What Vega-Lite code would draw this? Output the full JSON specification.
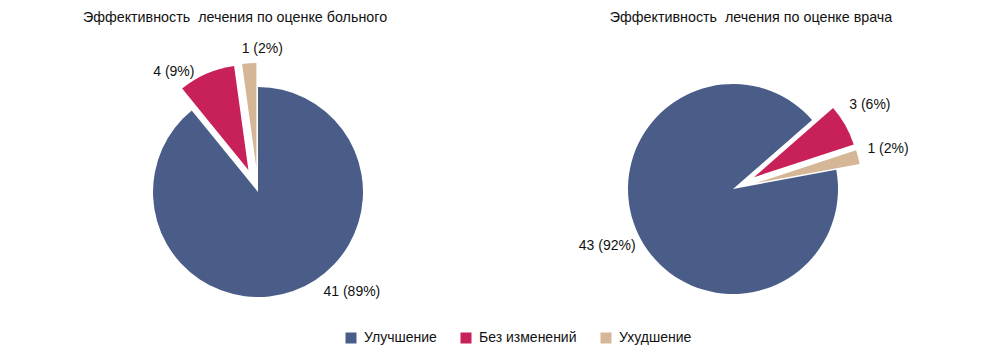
{
  "$schema": "https://vega.github.io/schema/vega-lite/v6.json",
  "padding": {"left": 0, "top": 10, "right": 0, "bottom": 0},
  "spacing": 0,
  "background": "white",
  "config": {
    "view": {"stroke": null},
    "font": "Liberation Sans",
    "title": {"fontSize": 14.3, "fontWeight": "normal", "color": "#111111", "font": "Liberation Sans"},
    "text": {"fontSize": 14, "font": "Liberation Sans", "color": "#111111"},
    "legend": {"labelFontSize": 14, "labelFont": "Liberation Sans", "labelColor": "#111111", "symbolType": "square", "symbolSize": 121, "symbolStrokeWidth": 0, "labelOffset": 6, "columnPadding": 22, "padding": 0}
  },
  "datasets": {
    "pies": [
      {"panel": "patient", "cat": "Улучшение", "n": 41, "idx": 1, "label": "41 (89%)"},
      {"panel": "patient", "cat": "Без изменений", "n": 4, "idx": 2, "label": "4 (9%)"},
      {"panel": "patient", "cat": "Ухудшение", "n": 1, "idx": 3, "label": "1 (2%)"},
      {"panel": "doctor", "cat": "Улучшение", "n": 43, "idx": 1, "label": "43 (92%)"},
      {"panel": "doctor", "cat": "Без изменений", "n": 3, "idx": 2, "label": "3 (6%)"},
      {"panel": "doctor", "cat": "Ухудшение", "n": 1, "idx": 3, "label": "1 (2%)"}
    ]
  },
  "resolve": {"scale": {"theta": "independent", "color": "shared"}, "legend": {"color": "shared"}},
  "hconcat": [
    {
      "width": 516,
      "height": 210,
      "title": {"text": "Эффективность\u00a0 лечения по оценке больного", "dx": -23, "offset": 17},
      "data": {"name": "pies"},
      "transform": [
        {"filter": "datum.panel == 'patient'"},
        {"joinaggregate": [{"op": "sum", "field": "n", "as": "total"}]},
        {"window": [{"op": "sum", "field": "n", "as": "cum"}], "sort": [{"field": "idx", "order": "ascending"}], "frame": [null, 0]},
        {"calculate": "(datum.cum - datum.n) / datum.total", "as": "f0"},
        {"calculate": "datum.cum / datum.total", "as": "f1"},
        {"calculate": "(datum.f0 + datum.f1) / 2", "as": "fm"}
      ],
      "layer": [
        {
          "transform": [{"filter": "datum.cat == 'Улучшение'"}],
          "mark": {"type": "arc", "radius": 105},
          "encoding": {
            "theta": {"field": "f0", "type": "quantitative", "stack": null, "scale": {"domain": [0, 1], "range": [0, 6.2832]}},
            "theta2": {"field": "f1"},
            "color": {"field": "cat", "type": "nominal", "title": null, "scale": {"domain": ["Улучшение", "Без изменений", "Ухудшение"], "range": ["#4a5d88", "#c8215a", "#d5b696"]}, "legend": {"orient": "none", "direction": "horizontal", "columns": 3, "legendX": 344, "legendY": 244, "title": null}}
          }
        },
        {
          "transform": [{"filter": "datum.cat == 'Без изменений'"}],
          "mark": {"type": "arc", "radius": 105, "xOffset": -9.6, "yOffset": -22},
          "encoding": {
            "theta": {"field": "f0", "type": "quantitative", "stack": null, "scale": {"domain": [0, 1], "range": [0, 6.2832]}},
            "theta2": {"field": "f1"},
            "color": {"field": "cat", "type": "nominal", "title": null, "scale": {"domain": ["Улучшение", "Без изменений", "Ухудшение"], "range": ["#4a5d88", "#c8215a", "#d5b696"]}, "legend": {"orient": "none", "direction": "horizontal", "columns": 3, "legendX": 344, "legendY": 244, "title": null}}
          }
        },
        {
          "transform": [{"filter": "datum.cat == 'Ухудшение'"}],
          "mark": {"type": "arc", "radius": 105, "xOffset": -1.6, "yOffset": -24},
          "encoding": {
            "theta": {"field": "f0", "type": "quantitative", "stack": null, "scale": {"domain": [0, 1], "range": [0, 6.2832]}},
            "theta2": {"field": "f1"},
            "color": {"field": "cat", "type": "nominal", "title": null, "scale": {"domain": ["Улучшение", "Без изменений", "Ухудшение"], "range": ["#4a5d88", "#c8215a", "#d5b696"]}, "legend": {"orient": "none", "direction": "horizontal", "columns": 3, "legendX": 344, "legendY": 244, "title": null}}
          }
        },
        {
          "transform": [{"filter": "datum.cat == 'Улучшение'"}],
          "mark": {"type": "text", "radius": 137, "dx": 48, "dy": -29},
          "encoding": {
            "theta": {"field": "fm", "type": "quantitative", "stack": null, "scale": {"domain": [0, 1], "range": [0, 6.2832]}},
            "text": {"field": "label"}
          }
        },
        {
          "transform": [{"filter": "datum.cat == 'Без изменений'"}],
          "mark": {"type": "text", "radius": 131, "dx": -32},
          "encoding": {
            "theta": {"field": "fm", "type": "quantitative", "stack": null, "scale": {"domain": [0, 1], "range": [0, 6.2832]}},
            "text": {"field": "label"}
          }
        },
        {
          "transform": [{"filter": "datum.cat == 'Ухудшение'"}],
          "mark": {"type": "text", "radius": 143, "dx": 14},
          "encoding": {
            "theta": {"field": "fm", "type": "quantitative", "stack": null, "scale": {"domain": [0, 1], "range": [0, 6.2832]}},
            "text": {"field": "label"}
          }
        }
      ]
    },
    {
      "width": 434,
      "height": 210,
      "title": {"text": "Эффективность\u00a0 лечения по оценке врача", "dx": 18, "offset": 59},
      "data": {"name": "pies"},
      "transform": [
        {"filter": "datum.panel == 'doctor'"},
        {"joinaggregate": [{"op": "sum", "field": "n", "as": "total"}]},
        {"window": [{"op": "sum", "field": "n", "as": "cum"}], "sort": [{"field": "idx", "order": "ascending"}], "frame": [null, 0]},
        {"calculate": "(datum.cum - datum.n) / datum.total", "as": "f0"},
        {"calculate": "datum.cum / datum.total", "as": "f1"},
        {"calculate": "(datum.f0 + datum.f1) / 2", "as": "fm"}
      ],
      "layer": [
        {
          "transform": [{"filter": "datum.cat == 'Улучшение'"}],
          "mark": {"type": "arc", "radius": 105, "yOffset": -3},
          "encoding": {
            "theta": {"field": "f0", "type": "quantitative", "stack": null, "scale": {"domain": [0, 1], "range": [1.3875, 7.6707]}},
            "theta2": {"field": "f1"},
            "color": {"field": "cat", "type": "nominal", "title": null, "scale": {"domain": ["Улучшение", "Без изменений", "Ухудшение"], "range": ["#4a5d88", "#c8215a", "#d5b696"]}, "legend": {"orient": "none", "direction": "horizontal", "columns": 3, "legendX": 344, "legendY": 244, "title": null}}
          }
        },
        {
          "transform": [{"filter": "datum.cat == 'Без изменений'"}],
          "mark": {"type": "arc", "radius": 105, "xOffset": 21, "yOffset": -14.8},
          "encoding": {
            "theta": {"field": "f0", "type": "quantitative", "stack": null, "scale": {"domain": [0, 1], "range": [1.3875, 7.6707]}},
            "theta2": {"field": "f1"},
            "color": {"field": "cat", "type": "nominal", "title": null, "scale": {"domain": ["Улучшение", "Без изменений", "Ухудшение"], "range": ["#4a5d88", "#c8215a", "#d5b696"]}, "legend": {"orient": "none", "direction": "horizontal", "columns": 3, "legendX": 344, "legendY": 244, "title": null}}
          }
        },
        {
          "transform": [{"filter": "datum.cat == 'Ухудшение'"}],
          "mark": {"type": "arc", "radius": 105, "xOffset": 23.3, "yOffset": -8.9},
          "encoding": {
            "theta": {"field": "f0", "type": "quantitative", "stack": null, "scale": {"domain": [0, 1], "range": [1.3875, 7.6707]}},
            "theta2": {"field": "f1"},
            "color": {"field": "cat", "type": "nominal", "title": null, "scale": {"domain": ["Улучшение", "Без изменений", "Ухудшение"], "range": ["#4a5d88", "#c8215a", "#d5b696"]}, "legend": {"orient": "none", "direction": "horizontal", "columns": 3, "legendX": 344, "legendY": 244, "title": null}}
          }
        },
        {
          "transform": [{"filter": "datum.cat == 'Улучшение'"}],
          "mark": {"type": "text", "radius": 132, "dx": -7, "dy": -3},
          "encoding": {
            "theta": {"field": "fm", "type": "quantitative", "stack": null, "scale": {"domain": [0, 1], "range": [1.3875, 7.6707]}},
            "text": {"field": "label"}
          }
        },
        {
          "transform": [{"filter": "datum.cat == 'Без изменений'"}],
          "mark": {"type": "text", "radius": 169, "dx": -10, "dy": -3},
          "encoding": {
            "theta": {"field": "fm", "type": "quantitative", "stack": null, "scale": {"domain": [0, 1], "range": [1.3875, 7.6707]}},
            "text": {"field": "label"}
          }
        },
        {
          "transform": [{"filter": "datum.cat == 'Ухудшение'"}],
          "mark": {"type": "text", "radius": 160, "dy": -3},
          "encoding": {
            "theta": {"field": "fm", "type": "quantitative", "stack": null, "scale": {"domain": [0, 1], "range": [1.3875, 7.6707]}},
            "text": {"field": "label"}
          }
        }
      ]
    }
  ]
}
